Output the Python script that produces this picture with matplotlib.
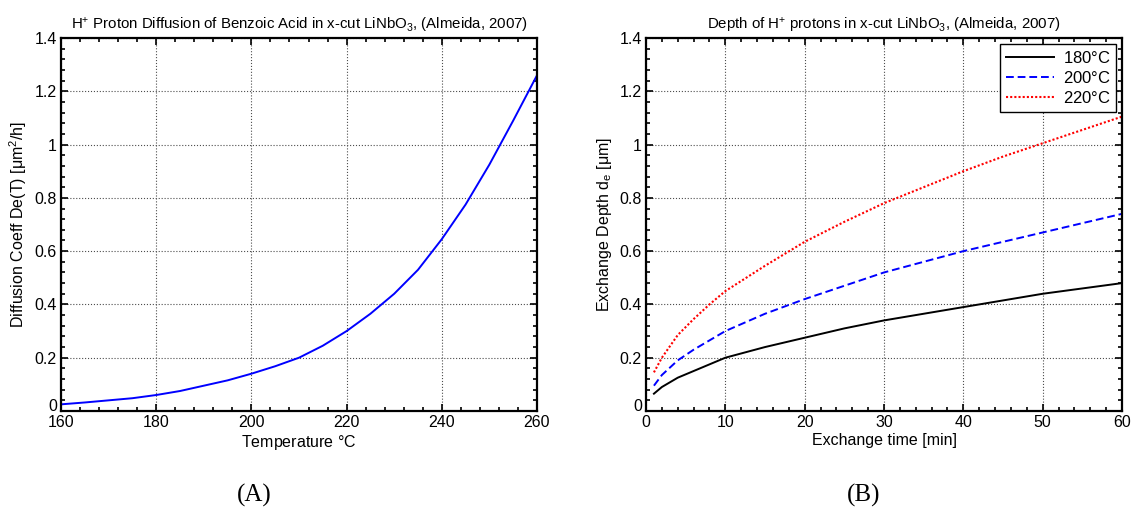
import matplotlib
matplotlib.use("Agg")
import matplotlib.pyplot as plt
from matplotlib.ticker import AutoMinorLocator, MultipleLocator

plt.rcParams['font.family'] = ['Liberation Sans', 'DejaVu Sans']
plt.rcParams['mathtext.fontset'] = 'custom'
plt.rcParams['mathtext.rm'] = 'Liberation Sans'
plt.rcParams['mathtext.it'] = 'Liberation Sans'

# Panel A data
temp_c = [160, 165, 170, 175, 180, 185, 190, 195, 200, 205, 210, 215, 220,
          225, 230, 235, 240, 245, 250, 255, 260]
diff_coeff = [0.025, 0.032, 0.04, 0.048, 0.06, 0.075, 0.095, 0.115, 0.14, 0.168, 0.2,
              0.245, 0.30, 0.365, 0.44, 0.53, 0.645, 0.775, 0.925, 1.09, 1.26]

# Panel B data
time_min = [1, 2, 4, 6, 8, 10, 15, 20, 25, 30, 35, 40, 45, 50, 55, 60]
depth_180 = [0.065, 0.09, 0.125, 0.15, 0.175, 0.2, 0.24, 0.275, 0.31, 0.34,
             0.365, 0.39, 0.415, 0.44, 0.46, 0.48]
depth_200 = [0.095, 0.135, 0.19, 0.23, 0.265, 0.3, 0.365, 0.42, 0.47, 0.52,
             0.56, 0.6, 0.635, 0.67, 0.705, 0.74]
depth_220 = [0.145, 0.2, 0.285, 0.345, 0.4, 0.45, 0.545, 0.635, 0.71, 0.78,
             0.84, 0.9, 0.955, 1.005, 1.055, 1.105]
series_labels = ['180$\\degree$C', '200$\\degree$C', '220$\\degree$C']

FS = 11.5

W, H = 1133, 512
fig = plt.figure(figsize=(W / 100, H / 100), dpi=100)
axA = fig.add_axes([61 / W, (H - 411) / H, 476 / W, 373 / H])
axB = fig.add_axes([646 / W, (H - 411) / H, 476 / W, 373 / H])


def style(ax):
    ax.set_ylim(0, 1.4)
    ax.yaxis.set_major_locator(MultipleLocator(0.2))
    ax.xaxis.set_minor_locator(AutoMinorLocator(5))
    ax.yaxis.set_minor_locator(AutoMinorLocator(5))
    ax.tick_params(which='both', direction='in', top=True, right=True,
                   labelsize=FS, width=1.2)
    ax.tick_params(axis='x', pad=3)
    ax.tick_params(axis='y', pad=3)
    ax.tick_params(which='major', length=5)
    ax.tick_params(which='minor', length=3)
    ax.grid(True, which='major', linestyle=':', color='0.3', linewidth=0.8)
    for s in ax.spines.values():
        s.set_linewidth(1.6)
    ax.set_yticks([0, 0.2, 0.4, 0.6, 0.8, 1, 1.2, 1.4])
    ax.set_yticklabels(['0', '0.2', '0.4', '0.6', '0.8', '1', '1.2', '1.4'])
    # lift the lowest y label so it clears the x labels, as in the reference
    ax.get_yticklabels()[0].set_va('baseline')


axA.plot(temp_c, diff_coeff, color='blue', linewidth=1.4)
axA.set_xlim(160, 260)
axA.set_xticks([160, 180, 200, 220, 240, 260])
style(axA)
axA.set_xlabel('Temperature $\\degree$C', fontsize=FS, labelpad=2)
axA.set_ylabel('Diffusion Coeff De(T) [$\\mu$m$^2$/h]', fontsize=FS, labelpad=4)
axA.set_title('H$^{+}$ Proton Diffusion of Benzoic Acid in x-cut LiNbO$_3$, (Almeida, 2007)',
              fontsize=10.8, pad=6)

axB.plot(time_min, depth_180, color='black', linestyle='-', linewidth=1.4, label=series_labels[0])
axB.plot(time_min, depth_200, color='blue', linestyle=(0, (4, 2)), linewidth=1.4, label=series_labels[1])
axB.plot(time_min, depth_220, color='red', linestyle=(0, (1, 1)), linewidth=1.5, label=series_labels[2])
axB.set_xlim(0, 60)
axB.set_xticks([0, 10, 20, 30, 40, 50, 60])
style(axB)
axB.set_xlabel('Exchange time [min]', fontsize=FS, labelpad=2)
axB.set_ylabel('Exchange Depth d$_e$ [$\\mu$m]', fontsize=FS, labelpad=4)
axB.set_title('Depth of H$^{+}$ protons in x-cut LiNbO$_3$, (Almeida, 2007)',
              fontsize=10.8, pad=6)
leg = axB.legend(loc='upper right', fontsize=FS + 0.5, fancybox=False, framealpha=1,
                 edgecolor='black', borderaxespad=0.35, handlelength=2.9,
                 labelspacing=0.25, borderpad=0.35, handletextpad=0.5)
leg.get_frame().set_linewidth(1.0)

fig.text(254 / W, 1 - 495 / H, '(A)', fontsize=18, family='Liberation Serif',
         ha='center', va='center')
fig.text(864 / W, 1 - 495 / H, '(B)', fontsize=18, family='Liberation Serif',
         ha='center', va='center')

fig.savefig('out.png', dpi=100)
